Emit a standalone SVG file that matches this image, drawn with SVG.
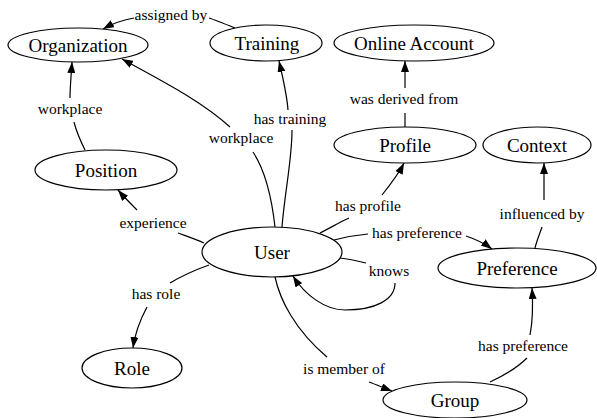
<svg xmlns="http://www.w3.org/2000/svg" width="597" height="418" viewBox="0 0 597 418">
<style>
.n ellipse{fill:#fff;stroke:#000;stroke-width:1.2}
.n text{font-family:"Liberation Serif","Times New Roman",serif;font-size:19px;text-anchor:middle;fill:#000}
.e path{fill:none;stroke:#000;stroke-width:1.2}
.e path.a{marker-end:url(#ah)}
.e text{font-family:"Liberation Serif","Times New Roman",serif;font-size:15.5px;text-anchor:middle;fill:#000}
</style>
<defs>
<marker id="ah" markerUnits="userSpaceOnUse" markerWidth="12" markerHeight="8" refX="11" refY="4" orient="auto">
<path d="M0,0 L11,4 L0,8 z" fill="#000"/>
</marker>
</defs>
<rect width="597" height="418" fill="#fff"/>
<g id="connectors" class="e">
<g id="e-assigned-by"><path d="M235,28 C225,24 215,20 209,18"/><text x="171" y="20">assigned by</text><path class="a" d="M134,18 C122,20 112,24 103,29"/></g>
<g id="e-user-workplace"><path d="M275,227 C272,200 265,170 253,152"/><text x="241" y="143">workplace</text><path class="a" d="M230,127 C200,100 160,80 122,59"/></g>
<g id="e-has-training"><path d="M282,227 C285,190 292,160 292,130"/><text x="290" y="124">has training</text><path class="a" d="M288,110 C287,95 283,78 279,61"/></g>
<g id="e-pos-workplace"><path d="M85,150 C80,140 76,130 74,122"/><text x="70" y="114">workplace</text><path class="a" d="M70,98 C70,88 71,78 72,62"/></g>
<g id="e-experience"><path d="M204,243 C195,239 186,236 178,233"/><text x="153" y="228">experience</text><path class="a" d="M137,210 C130,203 124,197 118,190"/></g>
<g id="e-has-role"><path d="M209,265 C195,270 180,277 170,283"/><text x="156" y="299">has role</text><path class="a" d="M147,307 C140,320 135,333 133,348"/></g>
<g id="e-has-profile"><path d="M320,233 C330,228 340,222 349,218"/><text x="368" y="211">has profile</text><path class="a" d="M382,195 C390,185 398,175 404,163"/></g>
<g id="e-derived"><path d="M405,127 L405,113"/><text x="404" y="104">was derived from</text><path class="a" d="M405,88 L405,61"/></g>
<g id="e-influenced"><path d="M535,248 C537,240 540,233 542,227"/><text x="542" y="219">influenced by</text><path class="a" d="M544,200 L544,163"/></g>
<g id="e-user-pref"><path d="M334,240 C345,237 357,235 368,234"/><text x="417" y="238">has preference</text><path class="a" d="M466,236 C475,239 484,243 492,249"/></g>
<g id="e-knows"><path d="M340,258 C350,259 358,261 366,263"/><text x="389" y="276">knows</text><path class="a" d="M395,283 C395,300 375,310 345,310 C325,310 305,295 293,276"/></g>
<g id="e-member"><path d="M275,277 C280,300 295,330 327,357"/><text x="344" y="374">is member of</text><path class="a" d="M369,382 C377,385 384,388 392,391"/></g>
<g id="e-group-pref"><path d="M490,382 C505,375 518,367 527,358"/><text x="523" y="351">has preference</text><path class="a" d="M530,335 C533,320 533,305 532,288"/></g>
</g>
<g id="organization" class="n"><ellipse cx="78" cy="45" rx="70" ry="17"/><text x="78" y="52">Organization</text></g>
<g id="training" class="n"><ellipse cx="266" cy="43" rx="56" ry="18"/><text x="267" y="50">Training</text></g>
<g id="online-account" class="n"><ellipse cx="414" cy="43" rx="80" ry="18"/><text x="414" y="50">Online Account</text></g>
<g id="profile" class="n"><ellipse cx="405" cy="145" rx="71" ry="18"/><text x="405" y="152">Profile</text></g>
<g id="context" class="n"><ellipse cx="537" cy="145" rx="54" ry="18"/><text x="537" y="152">Context</text></g>
<g id="position" class="n"><ellipse cx="106" cy="170" rx="71" ry="20"/><text x="106" y="177">Position</text></g>
<g id="user" class="n"><ellipse cx="272" cy="252" rx="70" ry="25"/><text x="272" y="259">User</text></g>
<g id="preference" class="n"><ellipse cx="517" cy="268" rx="79" ry="20"/><text x="517" y="275">Preference</text></g>
<g id="role" class="n"><ellipse cx="132" cy="368" rx="50" ry="20"/><text x="132" y="375">Role</text></g>
<g id="group" class="n"><ellipse cx="455" cy="400" rx="72" ry="18"/><text x="455" y="407">Group</text></g>
</svg>
